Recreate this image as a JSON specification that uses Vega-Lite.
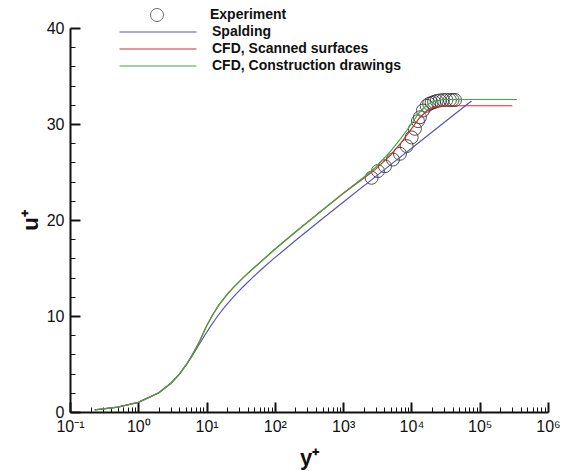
{
  "$schema": "https://vega.github.io/schema/vega-lite/v6.json",
  "width": 478,
  "height": 384,
  "autosize": "none",
  "padding": {"left": 70, "top": 28, "right": 20, "bottom": 59},
  "background": "white",
  "config": {
    "view": {"stroke": null},
    "font": "Liberation Sans",
    "axis": {
      "grid": false,
      "domainColor": "#111",
      "domainWidth": 2,
      "tickColor": "#111",
      "labelColor": "#111",
      "labelFontSize": 16,
      "labelFlush": false,
      "labelOverlap": false,
      "titleColor": "#111",
      "titleFontSize": 22,
      "titleFontWeight": "bold"
    },
    "legend": {
      "orient": "none",
      "padding": 0,
      "title": null,
      "labelFontSize": 14,
      "labelFontWeight": "bold",
      "labelColor": "#111",
      "labelLimit": 300
    }
  },
  "datasets": {
    "profiles": [
      {"series": "Spalding", "yplus": 0.23, "uplus": 0.23},
      {"series": "Spalding", "yplus": 0.5, "uplus": 0.5},
      {"series": "Spalding", "yplus": 1.0, "uplus": 1.0},
      {"series": "Spalding", "yplus": 2.003, "uplus": 2},
      {"series": "Spalding", "yplus": 3.016, "uplus": 3},
      {"series": "Spalding", "yplus": 4.056, "uplus": 4},
      {"series": "Spalding", "yplus": 5.152, "uplus": 5},
      {"series": "Spalding", "yplus": 6.352, "uplus": 6},
      {"series": "Spalding", "yplus": 7.735, "uplus": 7},
      {"series": "Spalding", "yplus": 9.42, "uplus": 8},
      {"series": "Spalding", "yplus": 11.6, "uplus": 9},
      {"series": "Spalding", "yplus": 14.55, "uplus": 10},
      {"series": "Spalding", "yplus": 18.72, "uplus": 11},
      {"series": "Spalding", "yplus": 24.76, "uplus": 12},
      {"series": "Spalding", "yplus": 33.68, "uplus": 13},
      {"series": "Spalding", "yplus": 46.99, "uplus": 14},
      {"series": "Spalding", "yplus": 66.98, "uplus": 15},
      {"series": "Spalding", "yplus": 97.1, "uplus": 16},
      {"series": "Spalding", "yplus": 211, "uplus": 18},
      {"series": "Spalding", "yplus": 471, "uplus": 20},
      {"series": "Spalding", "yplus": 1064, "uplus": 22},
      {"series": "Spalding", "yplus": 2412, "uplus": 24},
      {"series": "Spalding", "yplus": 5476, "uplus": 26},
      {"series": "Spalding", "yplus": 12440, "uplus": 28},
      {"series": "Spalding", "yplus": 28250, "uplus": 30},
      {"series": "Spalding", "yplus": 75600, "uplus": 32.4},

      {"series": "CFD, Scanned surfaces", "yplus": 0.23, "uplus": 0.23},
      {"series": "CFD, Scanned surfaces", "yplus": 0.5, "uplus": 0.5},
      {"series": "CFD, Scanned surfaces", "yplus": 1, "uplus": 1},
      {"series": "CFD, Scanned surfaces", "yplus": 2, "uplus": 2},
      {"series": "CFD, Scanned surfaces", "yplus": 3, "uplus": 3},
      {"series": "CFD, Scanned surfaces", "yplus": 4, "uplus": 3.95},
      {"series": "CFD, Scanned surfaces", "yplus": 5, "uplus": 4.9},
      {"series": "CFD, Scanned surfaces", "yplus": 6, "uplus": 5.8},
      {"series": "CFD, Scanned surfaces", "yplus": 7, "uplus": 6.65},
      {"series": "CFD, Scanned surfaces", "yplus": 8, "uplus": 7.45},
      {"series": "CFD, Scanned surfaces", "yplus": 10, "uplus": 8.95},
      {"series": "CFD, Scanned surfaces", "yplus": 12, "uplus": 10.0},
      {"series": "CFD, Scanned surfaces", "yplus": 15, "uplus": 11.1},
      {"series": "CFD, Scanned surfaces", "yplus": 20, "uplus": 12.25},
      {"series": "CFD, Scanned surfaces", "yplus": 25, "uplus": 13.0},
      {"series": "CFD, Scanned surfaces", "yplus": 35, "uplus": 14.05},
      {"series": "CFD, Scanned surfaces", "yplus": 50, "uplus": 15.05},
      {"series": "CFD, Scanned surfaces", "yplus": 100, "uplus": 16.95},
      {"series": "CFD, Scanned surfaces", "yplus": 200, "uplus": 18.75},
      {"series": "CFD, Scanned surfaces", "yplus": 500, "uplus": 21.05},
      {"series": "CFD, Scanned surfaces", "yplus": 1000, "uplus": 22.75},
      {"series": "CFD, Scanned surfaces", "yplus": 2000, "uplus": 24.35},
      {"series": "CFD, Scanned surfaces", "yplus": 3000, "uplus": 25.3},
      {"series": "CFD, Scanned surfaces", "yplus": 5000, "uplus": 26.8},
      {"series": "CFD, Scanned surfaces", "yplus": 7000, "uplus": 28.0},
      {"series": "CFD, Scanned surfaces", "yplus": 10000, "uplus": 29.5},
      {"series": "CFD, Scanned surfaces", "yplus": 13000, "uplus": 30.6},
      {"series": "CFD, Scanned surfaces", "yplus": 17000, "uplus": 31.4},
      {"series": "CFD, Scanned surfaces", "yplus": 22000, "uplus": 31.8},
      {"series": "CFD, Scanned surfaces", "yplus": 30000, "uplus": 31.9},
      {"series": "CFD, Scanned surfaces", "yplus": 300000, "uplus": 31.9},

      {"series": "CFD, Construction drawings", "yplus": 0.23, "uplus": 0.23},
      {"series": "CFD, Construction drawings", "yplus": 0.5, "uplus": 0.5},
      {"series": "CFD, Construction drawings", "yplus": 1, "uplus": 1},
      {"series": "CFD, Construction drawings", "yplus": 2, "uplus": 2},
      {"series": "CFD, Construction drawings", "yplus": 3, "uplus": 3},
      {"series": "CFD, Construction drawings", "yplus": 4, "uplus": 3.95},
      {"series": "CFD, Construction drawings", "yplus": 5, "uplus": 4.9},
      {"series": "CFD, Construction drawings", "yplus": 6, "uplus": 5.8},
      {"series": "CFD, Construction drawings", "yplus": 7, "uplus": 6.65},
      {"series": "CFD, Construction drawings", "yplus": 8, "uplus": 7.45},
      {"series": "CFD, Construction drawings", "yplus": 10, "uplus": 8.95},
      {"series": "CFD, Construction drawings", "yplus": 12, "uplus": 10.0},
      {"series": "CFD, Construction drawings", "yplus": 15, "uplus": 11.1},
      {"series": "CFD, Construction drawings", "yplus": 20, "uplus": 12.25},
      {"series": "CFD, Construction drawings", "yplus": 25, "uplus": 13.0},
      {"series": "CFD, Construction drawings", "yplus": 35, "uplus": 14.05},
      {"series": "CFD, Construction drawings", "yplus": 50, "uplus": 15.05},
      {"series": "CFD, Construction drawings", "yplus": 100, "uplus": 16.95},
      {"series": "CFD, Construction drawings", "yplus": 200, "uplus": 18.75},
      {"series": "CFD, Construction drawings", "yplus": 500, "uplus": 21.05},
      {"series": "CFD, Construction drawings", "yplus": 1000, "uplus": 22.8},
      {"series": "CFD, Construction drawings", "yplus": 2000, "uplus": 24.45},
      {"series": "CFD, Construction drawings", "yplus": 3000, "uplus": 25.5},
      {"series": "CFD, Construction drawings", "yplus": 5000, "uplus": 27.2},
      {"series": "CFD, Construction drawings", "yplus": 7000, "uplus": 28.5},
      {"series": "CFD, Construction drawings", "yplus": 10000, "uplus": 30.0},
      {"series": "CFD, Construction drawings", "yplus": 13000, "uplus": 31.2},
      {"series": "CFD, Construction drawings", "yplus": 17000, "uplus": 32.0},
      {"series": "CFD, Construction drawings", "yplus": 22000, "uplus": 32.4},
      {"series": "CFD, Construction drawings", "yplus": 30000, "uplus": 32.55},
      {"series": "CFD, Construction drawings", "yplus": 350000, "uplus": 32.55}
    ],
    "experiment": [
      {"source": "Experiment", "yplus": 2610, "uplus": 24.4},
      {"source": "Experiment", "yplus": 3230, "uplus": 25.1},
      {"source": "Experiment", "yplus": 4090, "uplus": 25.6},
      {"source": "Experiment", "yplus": 5360, "uplus": 26.3},
      {"source": "Experiment", "yplus": 6790, "uplus": 26.9},
      {"source": "Experiment", "yplus": 8510, "uplus": 27.7},
      {"source": "Experiment", "yplus": 10070, "uplus": 28.6},
      {"source": "Experiment", "yplus": 11250, "uplus": 29.5},
      {"source": "Experiment", "yplus": 12450, "uplus": 30.3},
      {"source": "Experiment", "yplus": 13310, "uplus": 30.7},
      {"source": "Experiment", "yplus": 14730, "uplus": 31.4},
      {"source": "Experiment", "yplus": 16700, "uplus": 31.9},
      {"source": "Experiment", "yplus": 18200, "uplus": 32.1},
      {"source": "Experiment", "yplus": 19770, "uplus": 32.2},
      {"source": "Experiment", "yplus": 21500, "uplus": 32.3},
      {"source": "Experiment", "yplus": 23400, "uplus": 32.4},
      {"source": "Experiment", "yplus": 26000, "uplus": 32.45},
      {"source": "Experiment", "yplus": 28900, "uplus": 32.5},
      {"source": "Experiment", "yplus": 32500, "uplus": 32.5},
      {"source": "Experiment", "yplus": 36600, "uplus": 32.5},
      {"source": "Experiment", "yplus": 40000, "uplus": 32.5},
      {"source": "Experiment", "yplus": 43400, "uplus": 32.5}
    ]
  },
  "encoding": {
    "x": {
      "field": "yplus",
      "type": "quantitative",
      "scale": {"type": "log", "domain": [0.1, 1000000], "nice": false},
      "axis": {
        "title": "y⁺",
        "titlePadding": 8,
        "labelPadding": 16,
        "values": [0.1, 0.2, 0.3, 0.4, 0.5, 0.6, 0.7, 0.8, 0.9,
                   1, 2, 3, 4, 5, 6, 7, 8, 9,
                   10, 20, 30, 40, 50, 60, 70, 80, 90,
                   100, 200, 300, 400, 500, 600, 700, 800, 900,
                   1000, 2000, 3000, 4000, 5000, 6000, 7000, 8000, 9000,
                   10000, 20000, 30000, 40000, 50000, 60000, 70000, 80000, 90000,
                   100000, 200000, 300000, 400000, 500000, 600000, 700000, 800000, 900000,
                   1000000],
        "labelExpr": "abs(log(datum.value)/LN10 - round(log(datum.value)/LN10)) < 0.001 ? '10' + ['⁻¹','⁰','¹','²','³','⁴','⁵','⁶'][round(log(datum.value)/LN10) + 1] : ''",
        "tickSize": {"condition": {"test": "abs(log(datum.value)/LN10 - round(log(datum.value)/LN10)) < 0.001", "value": -10}, "value": -5},
        "tickWidth": {"condition": {"test": "abs(log(datum.value)/LN10 - round(log(datum.value)/LN10)) < 0.001", "value": 2}, "value": 1}
      }
    },
    "y": {
      "field": "uplus",
      "type": "quantitative",
      "scale": {"domain": [0, 40], "nice": false},
      "axis": {
        "title": "u⁺",
        "titlePadding": 4,
        "labelPadding": 16,
        "values": [0, 2, 4, 6, 8, 10, 12, 14, 16, 18, 20, 22, 24, 26, 28, 30, 32, 34, 36, 38, 40],
        "labelExpr": "datum.value % 10 == 0 ? datum.label : ''",
        "tickSize": {"condition": {"test": "datum.value % 10 == 0", "value": -10}, "value": -5},
        "tickWidth": {"condition": {"test": "datum.value % 10 == 0", "value": 2}, "value": 1}
      }
    }
  },
  "layer": [
    {
      "data": {"name": "experiment"},
      "mark": {"type": "point", "filled": false, "stroke": "#333", "strokeWidth": 1, "size": 169, "opacity": 0.85},
      "encoding": {
        "shape": {
          "field": "source",
          "type": "nominal",
          "scale": {"range": ["circle"]},
          "legend": {
            "legendX": 80,
            "legendY": -20,
            "symbolSize": 169,
            "symbolStrokeColor": "#555",
            "symbolFillColor": "transparent",
            "symbolStrokeWidth": 1,
            "labelOffset": 46
          }
        }
      }
    },
    {
      "data": {"name": "profiles"},
      "transform": [{"filter": "datum.series == 'Spalding'"}],
      "mark": {"type": "line", "strokeWidth": 1.2},
      "encoding": {
        "order": {"field": "yplus", "type": "quantitative"},
        "color": {
          "field": "series",
          "type": "nominal",
          "scale": {
            "domain": ["Spalding", "CFD, Scanned surfaces", "CFD, Construction drawings"],
            "range": ["#5454b8", "#d62a2a", "#3daa45"]
          },
          "legend": {
            "legendX": 80,
            "legendY": -4,
            "symbolType": "M-5.5,0H5.5",
            "symbolSize": 196,
            "symbolStrokeWidth": 1.2,
            "labelOffset": 46,
            "rowPadding": 2
          }
        }
      }
    },
    {
      "data": {"name": "profiles"},
      "transform": [{"filter": "datum.series == 'CFD, Scanned surfaces'"}],
      "mark": {"type": "line", "strokeWidth": 1.2},
      "encoding": {
        "order": {"field": "yplus", "type": "quantitative"},
        "color": {"field": "series", "type": "nominal"}
      }
    },
    {
      "data": {"name": "profiles"},
      "transform": [{"filter": "datum.series == 'CFD, Construction drawings'"}],
      "mark": {"type": "line", "strokeWidth": 1.2},
      "encoding": {
        "order": {"field": "yplus", "type": "quantitative"},
        "color": {"field": "series", "type": "nominal"}
      }
    }
  ]
}
